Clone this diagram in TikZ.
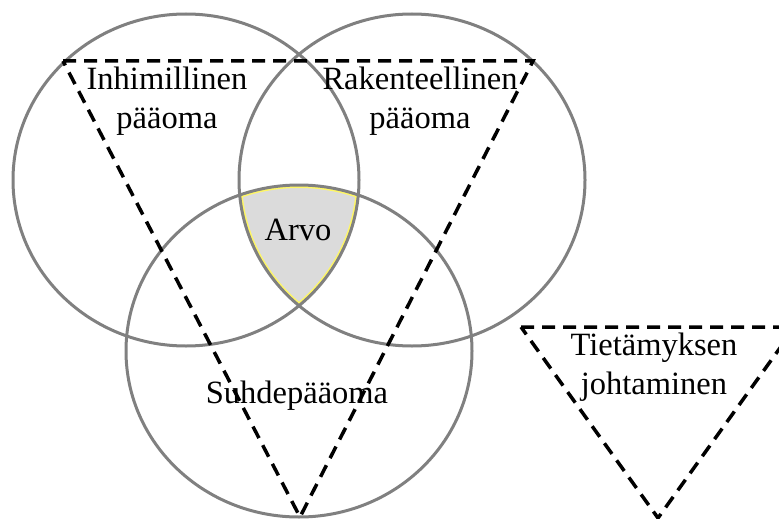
\documentclass[tikz,border=0pt]{standalone}
\usepackage{fontspec}
\setmainfont{Liberation Serif}

\begin{document}
\begin{tikzpicture}[x=1pt,y=-1pt,
  ring/.style={draw=gray, line width=3pt},
  wedge/.style={draw=black, line width=3.5pt, dash pattern=on 13pt off 8pt},
  lbl/.style={align=center, inner sep=0pt, font=\fontsize{32.5}{38.5}\selectfont}]

\useasboundingbox (0,0) rectangle (779,519);
\clip (0,0) rectangle (779,519);

\coordinate (H) at (186,180);
\coordinate (R) at (412,180);
\coordinate (S) at (299,351);
\coordinate (A) at (63,61);
\coordinate (B) at (533,61);
\coordinate (C) at (300,517);
\coordinate (D) at (521,327);
\coordinate (E) at (795,327);
\coordinate (F) at (658,518);

% value in the middle
\begin{scope}
\clip (H) ellipse [x radius=173pt, y radius=166pt];
\clip (R) ellipse [x radius=173pt, y radius=166pt];
\clip (S) ellipse [x radius=173pt, y radius=166pt];
\fill [gray!28] (S) ellipse [x radius=173pt, y radius=166pt];
\draw [yellow!60, line width=6pt] (H) ellipse [x radius=173pt, y radius=166pt];
\draw [yellow!60, line width=6pt] (R) ellipse [x radius=173pt, y radius=166pt];
\draw [yellow!60, line width=6pt] (S) ellipse [x radius=173pt, y radius=166pt];
\end{scope}

\draw [ring] (H) ellipse [x radius=173pt, y radius=166pt];
\draw [ring] (R) ellipse [x radius=173pt, y radius=166pt];
\draw [ring] (S) ellipse [x radius=173pt, y radius=166pt];

\draw [wedge] (A)--(B)--(C)--cycle;
\draw [wedge] (D)--(E)--(F)--cycle;

\node [lbl] (inh) at (167,101) {Inhimillinen\\pääoma};
\node [lbl] (rak) at (420,101) {Rakenteellinen\\pääoma};
\node [lbl] (arvo) at (298,230) {Arvo};
\node [lbl] (suh) at (297,396) {Suhdepääoma};
\node [lbl] (tie) at (654,367) {Tietämyksen\\johtaminen};
\end{tikzpicture}
\end{document}
